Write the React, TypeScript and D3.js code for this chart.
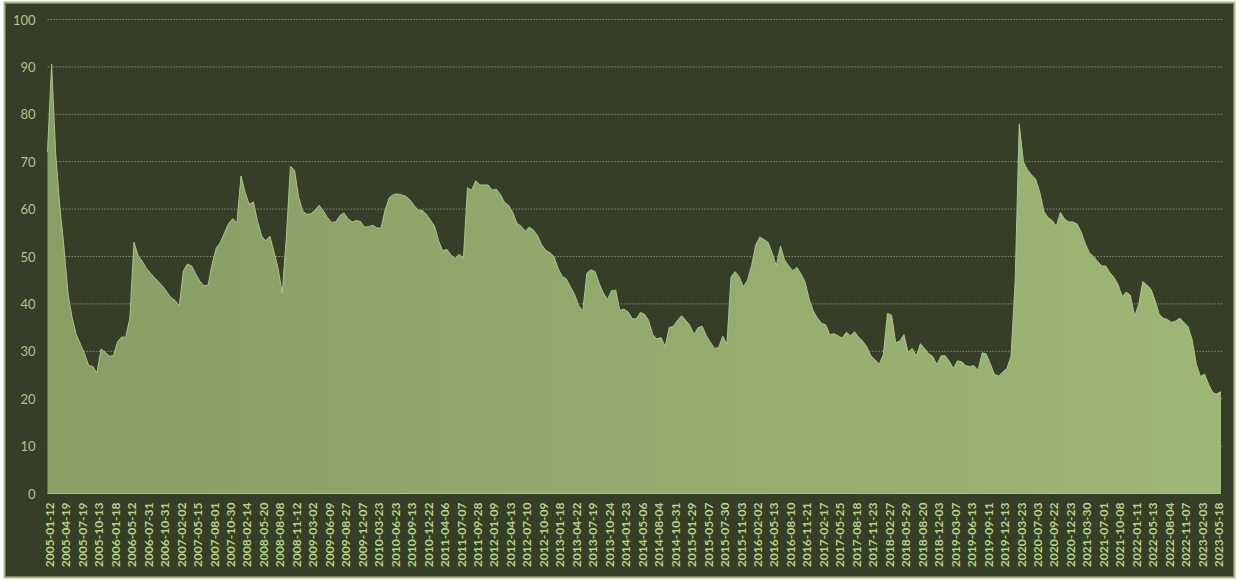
import React from "react";
import * as d3 from "d3";

// Tick labels on the category axis (every 4th sample carries a label)
const tickLabels: string[] = [
  "2005-01-12","2005-04-19","2005-07-19","2005-10-13","2006-01-18","2006-05-12","2006-07-31","2006-10-31",
  "2007-02-02","2007-05-15","2007-08-01","2007-10-30","2008-02-14","2008-05-20","2008-08-08","2008-11-12",
  "2009-03-02","2009-06-09","2009-08-27","2009-12-07","2010-03-23","2010-06-23","2010-09-13","2010-12-22",
  "2011-04-06","2011-07-07","2011-09-28","2012-01-09","2012-04-13","2012-07-10","2012-10-09","2013-01-18",
  "2013-04-22","2013-07-19","2013-10-24","2014-01-23","2014-05-06","2014-08-04","2014-10-31","2015-01-29",
  "2015-05-07","2015-07-30","2015-11-03","2016-02-02","2016-05-13","2016-08-10","2016-11-21","2017-02-17",
  "2017-05-25","2017-08-18","2017-11-23","2018-02-27","2018-05-29","2018-08-20","2018-12-03","2019-03-07",
  "2019-06-13","2019-09-11","2019-12-13","2020-03-23","2020-07-03","2020-09-22","2020-12-23","2021-03-30",
  "2021-07-01","2021-10-08","2022-01-11","2022-05-13","2022-08-04","2022-11-07","2023-02-03","2023-05-18",
];

const samplesPerLabel = 4;

// Series values, sampled evenly along the category axis
const values2005_2008: number[] = [
  72, 90.6, 71.5, 60.5, 52, 42, 37, 33.5, 31.5, 29.5, 27, 26.8, 25.4, 30.5, 29.8, 29,
  29, 32, 33, 33, 37, 53, 50.2, 49, 47.5, 46.5, 45.5, 44.6, 43.7, 42.5, 41.3, 40.7,
  39.6, 47, 48.4, 48, 46.3, 44.8, 43.8, 44, 48.5, 51.8, 53, 55, 57, 58, 57, 67,
  63.5, 61, 61.5, 57.5, 54.3, 53.3, 54.3, 51, 47.5, 42.2, 54, 69, 68.2, 62.5, 59.5, 58.9,
];
const values2009_2012: number[] = [
  59, 59.8, 60.8, 59.6, 58.2, 57.2, 57.3, 58.6, 59.2, 57.9, 57.3, 57.6, 57.4, 56.2, 56.3, 56.6,
  56, 56, 59.8, 62.4, 63.1, 63.2, 63, 62.7, 62, 60.8, 59.8, 59.7, 58.9, 57.7, 56.4, 53.3,
  51.2, 51.5, 50.3, 49.6, 50.5, 49.6, 64.5, 64, 66, 65.1, 65.1, 65.1, 64, 64.2, 63.1, 61.4,
  60.8, 59.3, 57, 56.4, 55.3, 56.2, 55.6, 54.4, 52.5, 51.3, 50.8, 50, 47.5, 45.8, 45.3, 43.6,
];
const values2013_2016: number[] = [
  42, 39.6, 38.5, 46.5, 47.2, 46.8, 44.3, 42.3, 40.9, 42.8, 42.9, 38.6, 38.9, 38.3, 36.9, 36.8,
  38.2, 37.8, 36.5, 33.5, 32.6, 32.9, 31, 35, 35.3, 36.5, 37.5, 36.5, 35.5, 33.5, 35, 35.3,
  33.3, 31.9, 30.6, 30.8, 33.2, 31.5, 45.7, 46.8, 45.7, 43.6, 45, 48.1, 52.4, 54.1, 53.6, 53,
  50.7, 48, 52.2, 49.3, 48, 47, 47.7, 46.3, 44.6, 41, 38.5, 37, 35.9, 35.6, 33.5, 33.7,
];
const values2017_2020: number[] = [
  33.3, 32.8, 34, 33.3, 34.1, 33, 32.1, 30.9, 29, 28.2, 27.3, 29.3, 38, 37.6, 31.8, 32.2,
  33.5, 29.8, 30.6, 29, 31.6, 30.6, 29.5, 28.9, 27.2, 29, 29.1, 27.9, 26.4, 28, 27.8, 27,
  26.8, 27, 26, 29.7, 29.4, 27.3, 25.1, 24.8, 25.6, 26.4, 29, 44.7, 78, 70, 68.3, 67.2,
  66.3, 63.5, 59.5, 58.2, 57.6, 56.4, 59.3, 57.9, 57.3, 57.3, 56.9, 55.3, 52.8, 50.8, 50, 49,
];
const values2021_2023: number[] = [
  48, 48, 46.6, 45.6, 44.1, 41.6, 42.5, 41.8, 37.5, 39.8, 44.7, 44, 43.1, 40.7, 37.8, 37,
  36.7, 36.1, 36.4, 37, 36.1, 35.2, 32.4, 27.3, 24.7, 25.2, 23, 21.3, 21, 21.5,
];

const values: number[] = [
  ...values2005_2008, ...values2009_2012, ...values2013_2016, ...values2017_2020, ...values2021_2023,
];

const yTicks: number[] = [0, 10, 20, 30, 40, 50, 60, 70, 80, 90, 100];

const W = 1239;
const H = 581;
const plot = { left: 47.5, right: 1221, top: 19.5, bottom: 493.5 };

export default function App() {
  const x = d3.scaleLinear().domain([0, values.length - 1]).range([plot.left, plot.right]);
  const y = d3.scaleLinear().domain([0, 100]).range([plot.bottom, plot.top]);

  const area = d3
    .area<number>()
    .x((_, i) => x(i))
    .y0(y(0))
    .y1((d) => y(d))
    .curve(d3.curveLinear);
  const line = d3
    .line<number>()
    .x((_, i) => x(i))
    .y((d) => y(d))
    .curve(d3.curveLinear);

  return (
    <div style={{ position: "fixed", left: 0, top: 0, width: W, height: H, background: "#ffffff" }}>
      <svg width={W} height={H} style={{ display: "block" }}>
        <defs>
          <linearGradient id="areaGrad" x1="0" x2="1" y1="0" y2="0">
            <stop offset="0%" stopColor="#899d65" />
            <stop offset="100%" stopColor="#9db776" />
          </linearGradient>
        </defs>
        <rect x={4.5} y={2.5} width={W - 9} height={H - 6} fill="#363e28" stroke="#a4bd86" strokeWidth={2} />
        {yTicks.map((t) =>
          t === 0 ? null : (
            <line
              key={"g" + t}
              x1={plot.left}
              x2={plot.right + 1}
              y1={y(t)}
              y2={y(t)}
              stroke="#858f72"
              strokeWidth={1}
              strokeDasharray="1.5,1.5"
            />
          )
        )}
        <path d={area(values) ?? ""} fill="url(#areaGrad)" />
        <path d={line(values) ?? ""} fill="none" stroke="#b3c992" strokeWidth={0.9} />
        <line x1={plot.left} x2={plot.right} y1={y(0)} y2={y(0)} stroke="#a9c08a" strokeWidth={1.2} />
        {yTicks.map((t) => (
          <text
            key={"y" + t}
            x={35.5}
            y={y(t)}
            textAnchor="end"
            dominantBaseline="central"
            fill="#b2c48f"
            fontFamily="Lato, 'Open Sans', sans-serif"
            fontSize={13}
          >
            {t}
          </text>
        ))}
        {tickLabels.map((lab, i) => {
          const px = x(i * samplesPerLabel) + 1.8;
          const py = plot.bottom + 9;
          return (
            <text
              key={lab}
              transform={`translate(${px},${py}) rotate(-90)`}
              textAnchor="end"
              dominantBaseline="central"
              fill="#b6d483"
              fontFamily="Lato, 'Open Sans', sans-serif"
              fontWeight="bold"
              fontSize={12}
            >
              {lab}
            </text>
          );
        })}
      </svg>
    </div>
  );
}
